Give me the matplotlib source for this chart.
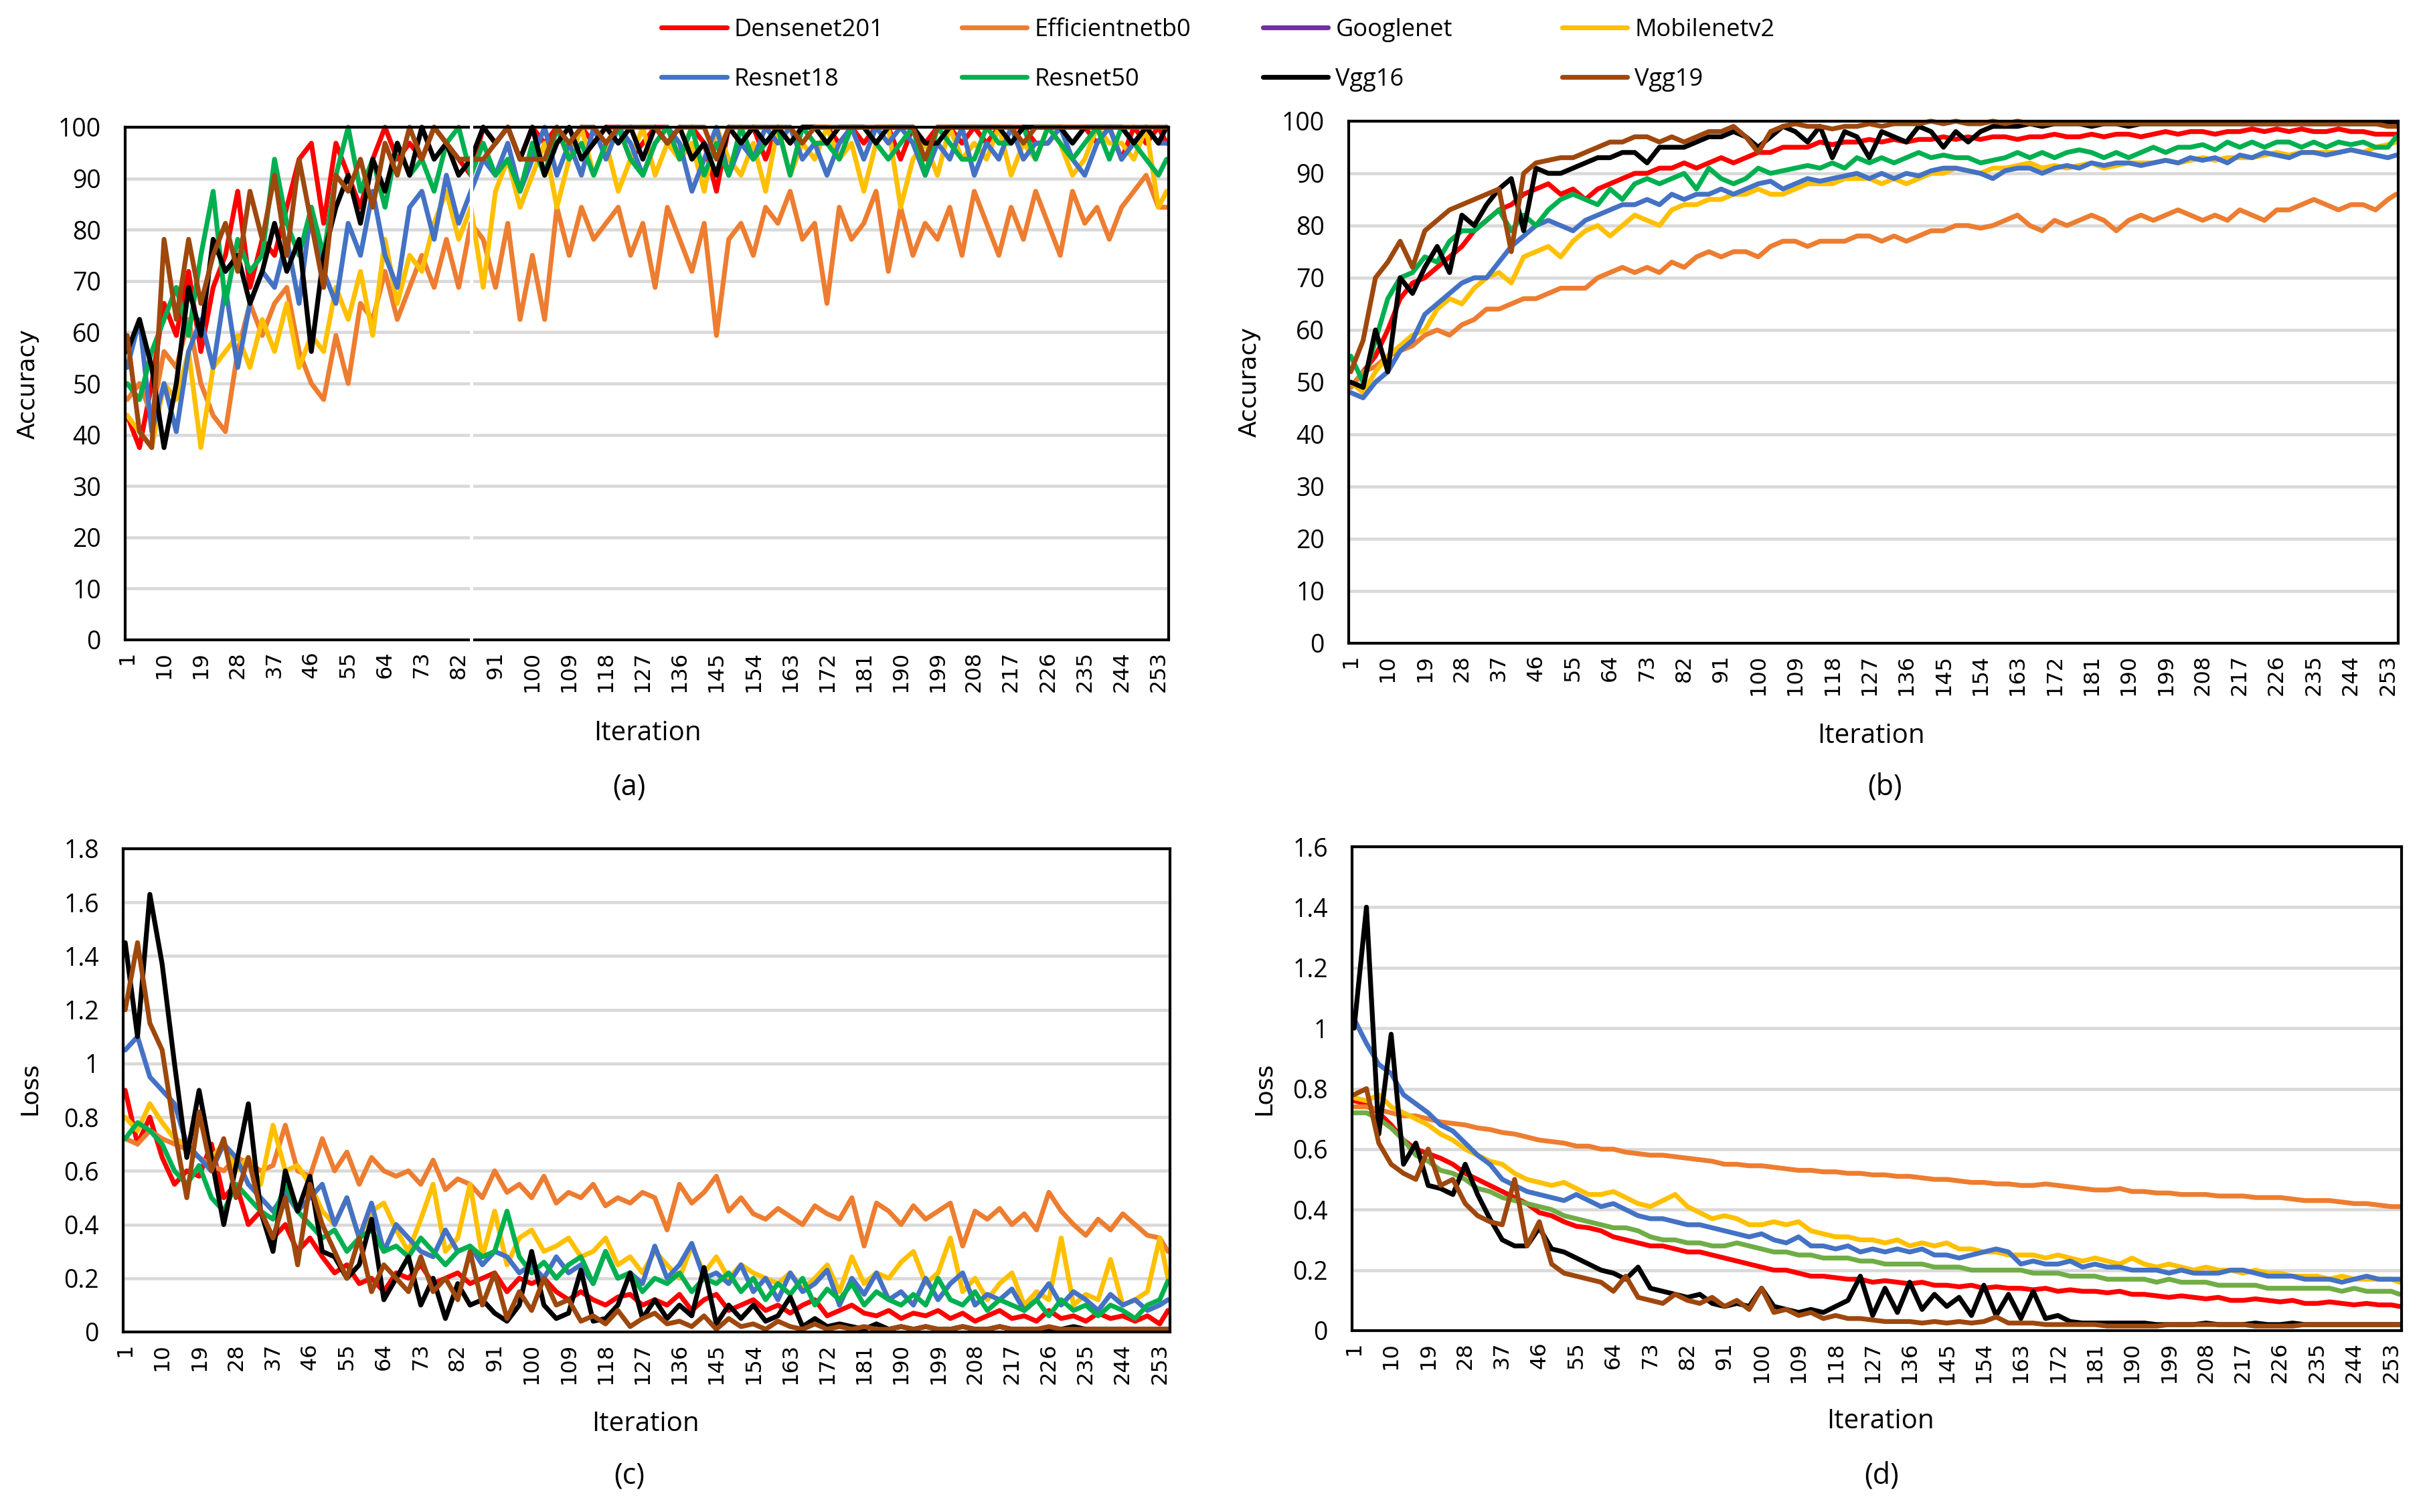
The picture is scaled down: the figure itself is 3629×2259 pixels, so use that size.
import matplotlib.pyplot as plt

W, H = 3630, 2259

MODELS = ["Densenet201", "Efficientnetb0", "Googlenet", "Mobilenetv2",
          "Resnet18", "Resnet50", "Vgg16", "Vgg19"]
COLORS = ["#FF0000", "#ED7D31", "#7030A0", "#FFC000",
          "#4472C4", "#00B050", "#000000", "#9E480E"]

# sampled iterations (every 3rd, plus the last one)
ITERATIONS = list(range(1, 254, 3)) + [255]
XTICKS = list(range(1, 254, 9))

# ---- (a) training accuracy, correct predictions out of a batch of 32 ----
BATCH = 32
A_DENSE = [14, 12, 16, 21, 19, 23, 18, 22, 24, 28, 22, 25,
           24, 27, 30, 31, 26, 31, 29, 27, 30, 32, 30, 31,
           30, 32, 31, 30, 29, 32, 31, 32, 30, 32, 31, 32,
           30, 32, 31, 32, 32, 30, 31, 32, 32, 30, 32, 31,
           28, 32, 31, 32, 30, 32, 31, 32, 32, 32, 31, 32,
           31, 32, 32, 30, 32, 31, 32, 32, 31, 32, 31, 32,
           32, 32, 31, 31, 32, 32, 32, 31, 32, 30, 32, 31,
           32, 31]
A_EFF = [15, 16, 14, 18, 17, 20, 16, 14, 13, 18, 21, 19,
         21, 22, 18, 16, 15, 19, 16, 21, 20, 23, 20, 22,
         24, 22, 25, 22, 26, 25, 22, 26, 20, 24, 20, 27,
         24, 27, 25, 26, 27, 24, 26, 22, 27, 25, 23, 26,
         19, 25, 26, 24, 27, 26, 28, 25, 26, 21, 27, 25,
         26, 28, 23, 27, 24, 26, 25, 27, 24, 28, 26, 24,
         27, 25, 28, 26, 24, 28, 26, 27, 25, 27, 28, 29,
         27, 27]
A_GOOG = []
A_MOB = [14, 13, 12, 16, 15, 18, 12, 17, 18, 19, 17, 20,
         18, 21, 17, 19, 18, 22, 20, 23, 19, 25, 21, 24,
         23, 26, 28, 25, 27, 22, 28, 30, 27, 29, 31, 27,
         30, 32, 29, 31, 28, 30, 32, 29, 31, 30, 31, 28,
         32, 30, 29, 31, 28, 32, 29, 31, 30, 32, 30, 31,
         28, 31, 32, 27, 30, 31, 29, 32, 30, 31, 30, 32,
         29, 31, 30, 32, 31, 29, 30, 32, 31, 31, 30, 32,
         27, 28]
A_R18 = [17, 20, 13, 16, 13, 18, 20, 17, 22, 17, 21, 23,
         22, 25, 21, 27, 23, 21, 26, 24, 28, 24, 22, 27,
         28, 25, 29, 26, 28, 30, 29, 31, 28, 30, 32, 29,
         31, 29, 32, 30, 32, 31, 29, 31, 32, 31, 28, 30,
         32, 29, 31, 30, 32, 31, 32, 30, 31, 29, 31, 32,
         30, 32, 31, 32, 31, 29, 31, 30, 32, 29, 31, 30,
         32, 30, 31, 31, 32, 30, 29, 31, 32, 30, 31, 32,
         31, 31]
A_R50 = [16, 15, 18, 20, 22, 19, 24, 28, 21, 25, 23, 24,
         30, 26, 24, 27, 24, 29, 32, 28, 30, 27, 31, 29,
         30, 28, 31, 32, 29, 31, 29, 30, 28, 31, 29, 32,
         30, 31, 29, 31, 32, 30, 29, 31, 32, 30, 32, 29,
         31, 29, 32, 30, 31, 32, 29, 32, 31, 31, 30, 32,
         32, 31, 30, 31, 32, 29, 32, 31, 30, 30, 32, 31,
         31, 32, 30, 32, 31, 30, 31, 32, 30, 32, 31, 30,
         29, 30]
A_V16 = [18, 20, 17, 12, 16, 22, 19, 25, 23, 24, 21, 23,
         26, 23, 25, 18, 24, 27, 29, 26, 30, 28, 31, 29,
         32, 30, 31, 29, 30, 32, 31, 32, 30, 32, 29, 31,
         32, 30, 31, 32, 31, 32, 30, 32, 31, 32, 30, 31,
         29, 32, 31, 32, 31, 32, 31, 32, 32, 31, 32, 32,
         32, 31, 32, 32, 32, 31, 31, 32, 32, 32, 32, 32,
         31, 32, 32, 32, 32, 31, 32, 32, 32, 32, 31, 32,
         31, 32]
A_V19 = [19, 13, 12, 25, 20, 25, 21, 24, 26, 23, 28, 25,
         29, 24, 30, 26, 22, 29, 28, 30, 27, 31, 29, 32,
         30, 32, 31, 30, 30, 30, 31, 32, 30, 30, 30, 32,
         31, 32, 32, 31, 32, 32, 32, 32, 31, 32, 32, 32,
         30, 32, 32, 32, 32, 32, 32, 31, 32, 32, 32, 32,
         32, 32, 32, 32, 32, 30, 32, 32, 32, 32, 32, 32,
         32, 31, 32, 32, 32, 32, 32, 32, 32, 32, 32, 32,
         32, 32]

# ---- (b) accuracy (%) ----
B_DENSE = [49, 52, 55, 60, 66, 69, 70, 72, 74, 76, 79, 81,
           83, 84, 86, 87, 88, 86, 87, 85, 87, 88, 89, 90,
           90, 91, 91, 92, 91, 92, 93, 92, 93, 94, 94, 95,
           95, 95, 96, 95.5, 96, 96, 96.5, 96, 96.5, 96, 96.5, 96.5,
           97, 96.5, 97, 96.5, 97, 97, 96.5, 97, 97, 97.5, 97, 97,
           97.5, 97, 97.5, 97.5, 97, 97.5, 98, 97.5, 98, 98, 97.5, 98,
           98, 98.5, 98, 98.5, 98, 98.5, 98, 98, 98.5, 98, 98, 97.5,
           97.5, 97.5]
B_EFF = [49, 52, 53, 55, 56, 57, 59, 60, 59, 61, 62, 64,
         64, 65, 66, 66, 67, 68, 68, 68, 70, 71, 72, 71,
         72, 71, 73, 72, 74, 75, 74, 75, 75, 74, 76, 77,
         77, 76, 77, 77, 77, 78, 78, 77, 78, 77, 78, 79,
         79, 80, 80, 79.5, 80, 81, 82, 80, 79, 81, 80, 81,
         82, 81, 79, 81, 82, 81, 82, 83, 82, 81, 82, 81,
         83, 82, 81, 83, 83, 84, 85, 84, 83, 84, 84, 83,
         85, 86]
B_GOOG = []
B_MOB = [50, 48, 52, 55, 57, 59, 60, 64, 66, 65, 68, 70,
         71, 69, 74, 75, 76, 74, 77, 79, 80, 78, 80, 82,
         81, 80, 83, 84, 84, 85, 85, 86, 86, 87, 86, 86,
         87, 88, 88, 88, 89, 89, 89, 88, 89, 88, 89, 90,
         90, 91, 90.5, 90, 91, 91, 91.5, 92, 91, 91.5, 91, 91.5,
         92, 91, 91.5, 92, 92, 92, 92.5, 92, 92.5, 93, 92.5, 93,
         93, 93, 93.5, 94, 93.5, 94, 94, 94, 94, 94.5, 94, 95,
         95.5, 96]
B_R18 = [48, 47, 50, 52, 56, 58, 63, 65, 67, 69, 70, 70,
         73, 76, 78, 80, 81, 80, 79, 81, 82, 83, 84, 84,
         85, 84, 86, 85, 86, 86, 87, 86, 87, 88, 88.5, 87,
         88, 89, 88.5, 89, 89.5, 90, 89, 90, 89, 90, 89.5, 90.5,
         91, 91, 90.5, 90, 89, 90.5, 91, 91, 90, 91, 91.5, 91,
         92, 91.5, 92, 92, 91.5, 92, 92.5, 92, 93, 92.5, 93, 92,
         93.5, 93, 94, 93.5, 93, 94, 94, 93.5, 94, 94.5, 94, 93.5,
         93, 93.5]
B_R50 = [55, 50, 58, 66, 70, 71, 74, 73, 77, 79, 79, 81,
         83, 79, 82, 80, 83, 85, 86, 85, 84, 87, 85, 88,
         89, 88, 89, 90, 87, 91, 89, 88, 89, 91, 90, 90.5,
         91, 91.5, 91, 92, 91, 93, 92, 93, 92, 93, 94, 93,
         93.5, 93, 93, 92, 92.5, 93, 94, 93, 94, 93, 94, 94.5,
         94, 93, 94, 93, 94, 95, 94, 95, 95, 95.5, 94.5, 96,
         95, 96, 95, 96, 96, 95, 96, 95, 96, 95.5, 96, 95,
         95, 97]
B_V16 = [50, 49, 60, 52, 70, 67, 72, 76, 71, 82, 80, 84,
         87, 89, 79, 91, 90, 90, 91, 92, 93, 93, 94, 94,
         92, 95, 95, 95, 96, 97, 97, 98, 97, 95, 97, 99,
         98, 96, 99, 93, 98, 97, 93, 98, 97, 96, 99, 98,
         95, 98, 96, 98, 99, 99, 99, 99.5, 99, 99.5, 99.5, 99.5,
         99, 99.5, 99.5, 99, 99.5, 99.5, 99.5, 99.5, 99.5, 99.5, 99.5, 99.5,
         99.5, 99.5, 99.5, 99.5, 99.5, 99.5, 99.5, 99.5, 99.5, 99.5, 99.5, 99.5,
         99.5, 99.5]
B_V19 = [52, 58, 70, 73, 77, 72, 79, 81, 83, 84, 85, 86,
         87, 75, 90, 92, 92.5, 93, 93, 94, 95, 96, 96, 97,
         97, 96, 97, 96, 97, 98, 98, 99, 97, 94, 98, 99,
         99.5, 99, 99, 98.5, 99, 99, 99.5, 99, 99.5, 99.5, 99.5, 100,
         99.5, 100, 99.5, 99.5, 100, 99.5, 100, 99.5, 99.5, 99.5, 99.5, 99.5,
         99.5, 99.5, 99.5, 99.5, 99.5, 99.5, 99.5, 99.5, 99.5, 99.5, 99.5, 99.5,
         99.5, 99.5, 99.5, 99.5, 99.5, 99.5, 99.5, 99.5, 99.5, 99.5, 99.5, 99.5,
         99, 99]

# ---- (c) loss ----
C_DENSE = [.9, .7, .8, .65, .55, .6, .58, .7, .5, .55, .4, .45,
           .35, .4, .3, .35, .28, .22, .25, .18, .2, .15, .22, .2,
           .25, .18, .2, .22, .18, .2, .22, .15, .2, .18, .2, .15,
           .12, .15, .12, .1, .13, .14, .1, .12, .1, .14, .08, .12,
           .14, .08, .1, .12, .08, .1, .07, .1, .12, .06, .08, .1,
           .07, .06, .08, .05, .07, .06, .08, .05, .07, .04, .06, .08,
           .05, .06, .04, .08, .05, .06, .04, .07, .05, .06, .04, .06,
           .03, .08]
C_EFF = [.72, .7, .75, .72, .7, .68, .65, .62, .6, .65, .63, .6,
         .62, .77, .6, .58, .72, .6, .67, .55, .65, .6, .58, .6,
         .55, .64, .53, .57, .55, .5, .6, .52, .55, .5, .58, .48,
         .52, .5, .55, .47, .5, .48, .52, .5, .38, .55, .48, .52,
         .58, .45, .5, .44, .42, .46, .43, .4, .47, .44, .42, .5,
         .32, .48, .45, .4, .47, .42, .45, .48, .32, .45, .42, .46,
         .4, .44, .38, .52, .45, .4, .36, .42, .38, .44, .4, .36,
         .35, .3]
C_GOOG = []
C_MOB = [.8, .75, .85, .78, .72, .7, .8, .65, .7, .6, .65, .55,
         .77, .6, .62, .55, .45, .4, .5, .35, .45, .48, .38, .3,
         .42, .55, .3, .35, .55, .28, .45, .25, .35, .38, .3, .32,
         .35, .28, .3, .35, .25, .28, .22, .3, .25, .2, .32, .22,
         .28, .2, .25, .22, .2, .18, .22, .16, .2, .25, .15, .28,
         .18, .22, .2, .26, .3, .18, .22, .35, .15, .2, .12, .18,
         .22, .1, .15, .12, .35, .1, .14, .12, .27, .1, .12, .15,
         .35, .2]
C_R18 = [1.05, 1.1, .95, .9, .85, .7, .65, .6, .7, .65, .55, .5,
         .45, .52, .45, .5, .55, .4, .5, .35, .48, .3, .4, .35,
         .3, .28, .38, .3, .32, .25, .3, .28, .22, .25, .2, .28,
         .22, .25, .18, .3, .2, .22, .18, .32, .2, .25, .33, .2,
         .22, .18, .25, .15, .2, .12, .22, .15, .18, .23, .1, .2,
         .14, .22, .12, .15, .1, .2, .12, .18, .22, .1, .14, .12,
         .16, .08, .12, .18, .1, .15, .12, .08, .14, .1, .12, .08,
         .1, .12]
C_R50 = [.72, .78, .75, .7, .6, .55, .62, .5, .45, .55, .5, .45,
         .42, .55, .45, .4, .35, .38, .3, .35, .38, .3, .32, .28,
         .35, .3, .25, .3, .32, .28, .3, .45, .28, .22, .26, .2,
         .25, .28, .18, .3, .2, .22, .15, .2, .18, .22, .15, .2,
         .18, .22, .15, .2, .12, .18, .14, .2, .1, .16, .12, .18,
         .1, .15, .12, .1, .14, .1, .2, .12, .1, .15, .08, .12,
         .1, .08, .12, .06, .12, .08, .1, .06, .1, .08, .05, .1,
         .12, .19]
C_V16 = [1.45, 1.1, 1.63, 1.37, 1.0, .65, .9, .65, .4, .62, .85, .45,
         .3, .6, .45, .58, .3, .28, .2, .25, .42, .12, .2, .28,
         .1, .2, .05, .18, .1, .12, .07, .04, .1, .3, .1, .05,
         .07, .23, .04, .05, .1, .22, .05, .12, .05, .1, .06, .24,
         .03, .1, .05, .1, .04, .06, .13, .02, .05, .02, .03, .02,
         .01, .03, .01, .02, .01, .02, .01, .01, .02, .01, .01, .02,
         .01, .01, .01, .01, .01, .02, .01, .01, .01, .01, .01, .01,
         .01, .01]
C_V19 = [1.2, 1.45, 1.15, 1.05, .75, .5, .82, .6, .72, .5, .65, .45,
         .35, .5, .25, .55, .4, .3, .2, .35, .15, .25, .2, .15,
         .28, .15, .2, .12, .3, .1, .22, .05, .15, .08, .2, .1,
         .12, .04, .06, .03, .08, .02, .05, .07, .03, .04, .02, .06,
         .01, .05, .02, .03, .01, .04, .02, .01, .03, .01, .02, .01,
         .02, .01, .01, .02, .01, .02, .01, .01, .02, .01, .01, .02,
         .01, .01, .01, .02, .01, .01, .01, .01, .01, .01, .01, .01,
         .01, .01]

# ---- (d) loss ----
D_DENSE = [.76, .75, .72, .68, .63, .6, .585, .57, .55, .52, .5, .48,
           .46, .44, .42, .39, .38, .36, .345, .34, .33, .31, .3, .29,
           .28, .28, .27, .26, .26, .25, .24, .23, .22, .21, .2, .2,
           .19, .18, .18, .175, .17, .17, .16, .165, .16, .155, .16, .15,
           .15, .145, .15, .14, .145, .14, .14, .135, .14, .13, .135, .13,
           .13, .125, .13, .12, .12, .115, .11, .115, .11, .105, .11, .1,
           .1, .105, .1, .095, .1, .09, .09, .095, .09, .085, .09, .085,
           .085, .08]
D_EFF = [.74, .74, .73, .72, .71, .71, .7, .69, .685, .68, .67, .665,
         .655, .65, .64, .63, .625, .62, .61, .61, .6, .6, .59, .585,
         .58, .58, .575, .57, .565, .56, .55, .55, .545, .545, .54, .535,
         .53, .53, .525, .525, .52, .52, .515, .515, .51, .51, .505, .5,
         .5, .495, .49, .49, .485, .485, .48, .48, .485, .48, .475, .47,
         .465, .465, .47, .46, .46, .455, .455, .45, .45, .45, .445, .445,
         .445, .44, .44, .44, .435, .43, .43, .43, .425, .42, .42, .415,
         .41, .41]
D_GOOG = []
D_MOB = [.77, .76, .78, .74, .72, .7, .68, .65, .63, .6, .58, .56,
         .55, .52, .5, .49, .48, .49, .47, .45, .45, .46, .44, .42,
         .41, .43, .45, .41, .39, .37, .38, .37, .35, .35, .36, .35,
         .36, .33, .32, .31, .31, .3, .3, .29, .3, .28, .29, .28,
         .29, .27, .27, .26, .26, .25, .25, .25, .24, .25, .24, .23,
         .24, .23, .22, .24, .22, .21, .22, .21, .2, .21, .2, .2,
         .19, .2, .19, .19, .18, .18, .18, .17, .18, .17, .17, .17,
         .17, .16]
D_R18 = [1.03, .95, .88, .85, .78, .75, .72, .68, .66, .62, .58, .55,
         .5, .48, .46, .45, .44, .43, .45, .43, .41, .42, .4, .38,
         .37, .37, .36, .35, .35, .34, .33, .32, .31, .32, .3, .29,
         .31, .28, .28, .27, .28, .26, .27, .26, .27, .26, .27, .25,
         .25, .24, .25, .26, .27, .26, .22, .23, .22, .22, .23, .21,
         .22, .21, .21, .2, .2, .2, .19, .2, .19, .19, .19, .2,
         .2, .19, .18, .18, .18, .17, .17, .17, .16, .17, .18, .17,
         .17, .17]
D_R50 = [.72, .72, .7, .67, .63, .58, .56, .53, .52, .5, .47, .46,
         .44, .43, .42, .41, .4, .38, .37, .36, .35, .34, .34, .33,
         .31, .3, .3, .29, .29, .28, .28, .29, .28, .27, .26, .26,
         .25, .25, .24, .24, .24, .23, .23, .22, .22, .22, .22, .21,
         .21, .21, .2, .2, .2, .2, .2, .19, .19, .19, .18, .18,
         .18, .17, .17, .17, .17, .16, .17, .16, .16, .16, .15, .15,
         .15, .15, .14, .14, .14, .14, .14, .14, .13, .14, .13, .13,
         .13, .12]
D_V16 = [1.0, 1.4, .65, .98, .55, .62, .48, .47, .45, .55, .45, .37,
         .3, .28, .28, .34, .27, .26, .24, .22, .2, .19, .17, .21,
         .14, .13, .12, .11, .12, .09, .08, .09, .08, .14, .08, .07,
         .06, .07, .06, .08, .1, .18, .05, .14, .06, .16, .07, .12,
         .08, .11, .05, .15, .05, .12, .04, .13, .04, .05, .03, .025,
         .025, .025, .025, .025, .025, .02, .02, .02, .02, .025, .02, .02,
         .02, .025, .02, .02, .025, .02, .02, .02, .02, .02, .02, .02,
         .02, .02]
D_V19 = [.78, .8, .62, .55, .52, .5, .6, .48, .5, .42, .38, .36,
         .35, .5, .28, .36, .22, .19, .18, .17, .16, .13, .18, .11,
         .1, .09, .12, .1, .09, .11, .08, .1, .07, .14, .06, .07,
         .05, .06, .04, .05, .04, .04, .035, .03, .03, .03, .025, .03,
         .025, .03, .025, .03, .045, .025, .025, .025, .02, .02, .02, .02,
         .02, .015, .015, .015, .015, .015, .02, .02, .02, .02, .02, .02,
         .02, .015, .015, .015, .015, .02, .02, .02, .02, .02, .02, .02,
         .02, .02]

PANEL_A = [[v * 100 / BATCH for v in s] for s in
           [A_DENSE, A_EFF, A_GOOG, A_MOB, A_R18, A_R50, A_V16, A_V19]]
PANEL_B = [B_DENSE, B_EFF, B_GOOG, B_MOB, B_R18, B_R50, B_V16, B_V19]
PANEL_C = [C_DENSE, C_EFF, C_GOOG, C_MOB, C_R18, C_R50, C_V16, C_V19]
PANEL_D = [D_DENSE, D_EFF, D_GOOG, D_MOB, D_R18, D_R50, D_V16, D_V19]

TEXT_FONT = "Open Sans"
WIDE_FONT = "DejaVu Sans"
LW = 5.2


def rect(l, t, r, b):
    return [l / W, 1 - b / H, (r - l) / W, (b - t) / H]


def draw_panel(ax, series, ymax, ystep, colors, ylabels):
    handles = []
    for name, vals, col in zip(MODELS, series, colors):
        x = ITERATIONS[:len(vals)]
        h, = ax.plot(x, vals, color=col, lw=LW, label=name, clip_on=False,
                     solid_joinstyle="round", solid_capstyle="round")
        handles.append(h)
    ax.set_xlim(0.5, 255.5)
    ax.set_ylim(0, ymax)
    yt = [i * ystep for i in range(len(ylabels))]
    ax.set_yticks(yt)
    ax.set_yticklabels(ylabels, fontfamily=TEXT_FONT, fontsize=27)
    ax.set_xticks(XTICKS)
    ax.set_xticklabels([str(t) for t in XTICKS], rotation=90,
                       fontfamily=WIDE_FONT, fontsize=23)
    ax.tick_params(axis="y", length=0, pad=26)
    ax.tick_params(axis="x", length=0, pad=12)
    ax.grid(axis="y", color="#D9D9D9", lw=3.3, zorder=0)
    ax.set_axisbelow(True)
    for sp in ax.spines.values():
        sp.set_linewidth(3.0)
        sp.set_color("black")
        sp.set_zorder(3)
    return handles


fig = plt.figure(figsize=(W / 100, H / 100), dpi=100)

acc_labels = [str(v) for v in range(0, 101, 10)]
loss_c_labels = ["0", "0.2", "0.4", "0.6", "0.8", "1", "1.2", "1.4", "1.6", "1.8"]
loss_d_labels = ["0", "0.2", "0.4", "0.6", "0.8", "1", "1.2", "1.4", "1.6"]

colors_d = COLORS[:5] + ["#70AD47"] + COLORS[6:]

ax_a = fig.add_axes(rect(187, 190, 1746, 956))
handles = draw_panel(ax_a, PANEL_A, 100, 10, COLORS, acc_labels)
# rendering seam visible in the original panel
ax_a.axvline(85, color="white", lw=3.5, ymin=-0.01, ymax=1.01,
             clip_on=False, zorder=6)

ax_b = fig.add_axes(rect(2015, 181, 3583, 961))
draw_panel(ax_b, PANEL_B, 100, 10, COLORS, acc_labels)

ax_c = fig.add_axes(rect(184, 1268, 1748, 1990))
draw_panel(ax_c, PANEL_C, 1.8, 0.2, COLORS, loss_c_labels)

ax_d = fig.add_axes(rect(2020, 1265, 3588, 1988))
draw_panel(ax_d, PANEL_D, 1.6, 0.2, colors_d, loss_d_labels)

# axis titles and panel captions
for x, y, s in [(42, 574, "Accuracy"), (1867, 571, "Accuracy"),
                (44, 1626, "Loss"), (1888, 1626, "Loss")]:
    fig.text(x / W, 1 - y / H, s, rotation=90, ha="center", va="center",
             fontfamily=WIDE_FONT, fontsize=26)
for x, y, s in [(967, 1096, "Iteration"), (2795, 1100, "Iteration"),
                (964, 2128, "Iteration"), (2809, 2124, "Iteration")]:
    fig.text(x / W, 1 - y / H, s, ha="center", va="center",
             fontfamily=TEXT_FONT, fontsize=29)
for x, y, s in [(940, 1176, "(a)"), (2816, 1176, "(b)"),
                (940, 2205, "(c)"), (2811, 2205, "(d)")]:
    fig.text(x / W, 1 - y / H, s, ha="center", va="center",
             fontfamily=TEXT_FONT, fontsize=31)

# legend: four columns of two entries, equal spacing like the original
col_x = [988, 1437, 1887, 2334]
for c, x in enumerate(col_x):
    fig.legend(handles=[handles[c], handles[c + 4]],
               loc="upper left", bbox_to_anchor=(x / W, 1 - 27 / H),
               frameon=False, borderpad=0, borderaxespad=0,
               handlelength=2.7, handletextpad=0.3, labelspacing=1.05,
               prop={"family": TEXT_FONT, "size": 26})

fig.savefig("out.png", dpi=100)
